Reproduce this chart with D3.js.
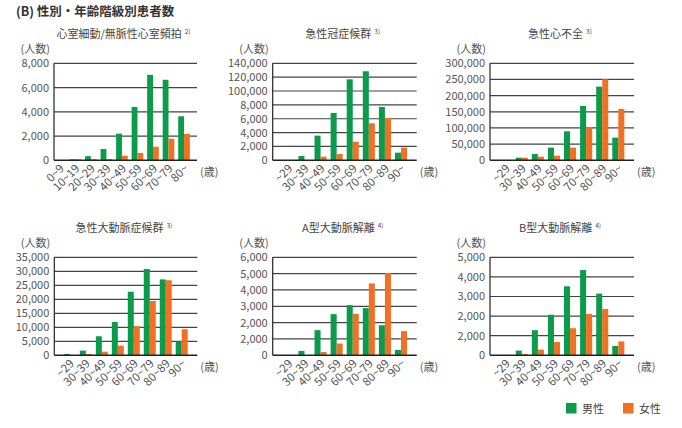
<!DOCTYPE html>
<html>
<head>
<meta charset="utf-8">
<script src="https://cdn.jsdelivr.net/npm/d3@7"></script>
<style>
  body { margin: 0; background: #fff; }
  text { font-family: "Noto Sans CJK JP", "Noto Sans", sans-serif; }
</style>
</head>
<body>
<svg id="chart" width="682" height="428"></svg>
<script>
// age groups
const ageGroupsA = ["0~9", "10~19", "20~29", "30~39", "40~49", "50~59", "60~69", "70~79", "80~"];
const ageGroupsB = ["~29", "30~39", "40~49", "50~59", "60~69", "70~79", "80~89", "90~"];

const panelTitles = ["心室細動/無脈性心室頻拍", "急性冠症候群", "急性心不全",
                     "急性大動脈症候群", "A型大動脈解離", "B型大動脈解離"];
const panelNotes = ["2)", "3)", "3)", "3)", "4)", "4)"];

// values (male / female)
const maleVF = [0, 80, 340, 930, 2200, 4400, 7050, 6640, 3630];
const femaleVF = [0, 80, 90, 100, 380, 600, 1120, 1780, 2190];
const maleACS = [0, 6200, 35600, 68300, 116900, 128500, 77000, 11000];
const femaleACS = [0, 0, 5300, 9100, 26900, 53400, 61100, 18300];
const maleAHF = [0, 8200, 19600, 39200, 89700, 168000, 227800, 70100];
const femaleAHF = [0, 8000, 11300, 14400, 39200, 102000, 250500, 158800];
const maleAAS = [480, 1670, 6800, 11900, 22700, 30800, 27100, 5000];
const femaleAAS = [0, 480, 1300, 3450, 10400, 19400, 26800, 9300];
const maleTypeA = [0, 270, 1540, 2520, 3070, 2890, 1840, 330];
const femaleTypeA = [0, 0, 200, 720, 2540, 4400, 5040, 1480];
const maleTypeB = [0, 240, 1280, 2070, 3520, 4350, 3150, 480];
const femaleTypeB = [0, 70, 290, 680, 1380, 2110, 2360, 710];

// y ticks and their printed labels (as in the original)
const ticksVF = [0, 2000, 4000, 6000, 8000];
const tickLabelsVF = ["0", "2,000", "4,000", "6,000", "8,000"];
const ticksACS = [0, 20000, 40000, 60000, 80000, 100000, 120000, 140000];
const tickLabelsACS = ["0", "2,000", "4,000", "6,000", "8,000", "100,000", "120,000", "140,000"];
const ticksAHF = [0, 50000, 100000, 150000, 200000, 250000, 300000];
const tickLabelsAHF = ["0", "50,000", "100,000", "150,000", "200,000", "250,000", "300,000"];
const ticksAAS = [0, 5000, 10000, 15000, 20000, 25000, 30000, 35000];
const tickLabelsAAS = ["0", "5,000", "10,000", "15,000", "20,000", "25,000", "30,000", "35,000"];
const ticksTypeA = [0, 1000, 2000, 3000, 4000, 5000, 6000];
const tickLabelsTypeA = ["0", "2,000", "2,000", "3,000", "4,000", "5,000", "6,000"];
const ticksTypeB = [0, 1000, 2000, 3000, 4000, 5000];
const tickLabelsTypeB = ["0", "2,000", "2,000", "3,000", "4,000", "5,000"];

const legendLabels = ["男性", "女性"];
const colors = ["#0b9b4a", "#f07124"];

const panels = [
  {cats: ageGroupsA, male: maleVF, female: femaleVF, ticks: ticksVF, labels: tickLabelsVF, x: 54, y: 63.3, w: 143, h: 97, po: 0.23, align: 0},
  {cats: ageGroupsB, male: maleACS, female: femaleACS, ticks: ticksACS, labels: tickLabelsACS, x: 272.7, y: 63.3, w: 144, h: 97, po: 0.6, align: 0.5},
  {cats: ageGroupsB, male: maleAHF, female: femaleAHF, ticks: ticksAHF, labels: tickLabelsAHF, x: 490, y: 63.3, w: 144, h: 97, po: 0.6, align: 0.5},
  {cats: ageGroupsB, male: maleAAS, female: femaleAAS, ticks: ticksAAS, labels: tickLabelsAAS, x: 54.3, y: 257.3, w: 143, h: 98, po: 0.6, align: 0.5},
  {cats: ageGroupsB, male: maleTypeA, female: femaleTypeA, ticks: ticksTypeA, labels: tickLabelsTypeA, x: 272.7, y: 257.3, w: 144, h: 98, po: 0.6, align: 0.5},
  {cats: ageGroupsB, male: maleTypeB, female: femaleTypeB, ticks: ticksTypeB, labels: tickLabelsTypeB, x: 490, y: 257.3, w: 144, h: 98, po: 0.6, align: 0.5}
];

const svg = d3.select("#chart");

// main title
svg.append("text")
  .attr("x", 16)
  .attr("y", 16)
  .style("font-size", "12.5px")
  .style("font-weight", "bold")
  .attr("fill", "#333")
  .text("(B) 性別・年齢階級別患者数");

panels.forEach(function(p, i) {
  const g = svg.append("g").attr("transform", "translate(" + p.x + "," + p.y + ")");

  const x = d3.scaleBand()
    .domain(p.cats)
    .range([0, p.w])
    .paddingInner(0.25)
    .paddingOuter(p.po)
    .align(p.align);
  const sub = d3.scaleBand()
    .domain([0, 1])
    .range([0, x.bandwidth()]);
  const y = d3.scaleLinear()
    .domain([0, d3.max(p.ticks)])
    .range([p.h, 0]);

  // grid lines
  g.selectAll(".grid")
    .data(p.ticks.slice(1))
    .enter().append("line")
      .attr("x1", 0).attr("x2", p.w)
      .attr("y1", function(d) { return y(d); })
      .attr("y2", function(d) { return y(d); })
      .attr("stroke", "#444")
      .attr("stroke-width", 1.2);

  // y tick labels
  g.selectAll(".ylab")
    .data(p.ticks)
    .enter().append("text")
      .attr("x", -5)
      .attr("y", function(d) { return y(d); })
      .attr("dy", "0.36em")
      .attr("text-anchor", "end")
      .style("font-size", "11px")
      .attr("fill", "#555")
      .text(function(d, j) { return p.labels[j]; });

  // bars
  const series = [p.male, p.female];
  series.forEach(function(vals, s) {
    g.selectAll(".bar" + s)
      .data(p.cats)
      .enter().append("rect")
        .attr("x", function(d) { return x(d) + sub(s); })
        .attr("y", function(d, j) { return y(vals[j]); })
        .attr("width", sub.bandwidth())
        .attr("height", function(d, j) { return p.h - y(vals[j]); })
        .attr("fill", colors[s]);
  });

  // axes lines
  g.append("line").attr("x1", 0).attr("x2", 0).attr("y1", 0).attr("y2", p.h)
    .attr("stroke", "#222").attr("stroke-width", 1.2);
  g.append("line").attr("x1", 0).attr("x2", p.w).attr("y1", p.h).attr("y2", p.h)
    .attr("stroke", "#222").attr("stroke-width", 1.5);

  // x labels, rotated
  g.selectAll(".xlab")
    .data(p.cats)
    .enter().append("text")
      .attr("transform", function(d) {
        return "translate(" + (x(d) + x.bandwidth() / 2 + 5) + "," + (p.h + 9) + ")rotate(-45)";
      })
      .attr("text-anchor", "end")
      .style("font-size", "11.5px")
      .attr("fill", "#555")
      .text(function(d) { return d; });

  // unit labels
  g.append("text")
    .attr("x", -4).attr("y", -10)
    .attr("text-anchor", "end")
    .style("font-size", "11px")
    .attr("fill", "#555")
    .text("(人数)");
  g.append("text")
    .attr("x", p.w + 3).attr("y", p.h + 16)
    .style("font-size", "11px")
    .attr("fill", "#555")
    .text("(歳)");

  // panel title with note
  const t = g.append("text")
    .attr("x", p.w / 2 - 2).attr("y", -25)
    .attr("text-anchor", "middle")
    .style("font-size", "11px")
    .attr("fill", "#444");
  t.append("tspan").text(panelTitles[i]);
  t.append("tspan").attr("dx", 3).attr("dy", -4).style("font-size", "6.5px").text(panelNotes[i]);
});

// legend
const legend = svg.append("g").attr("transform", "translate(566,403)");
legendLabels.forEach(function(l, i) {
  const lg = legend.append("g").attr("transform", "translate(" + (i * 57) + ",0)");
  lg.append("rect").attr("width", 10.5).attr("height", 10.5).attr("fill", colors[i]);
  lg.append("text").attr("x", 16).attr("y", 9.5)
    .style("font-size", "11px").attr("fill", "#444").text(l);
});
</script>
</body>
</html>
